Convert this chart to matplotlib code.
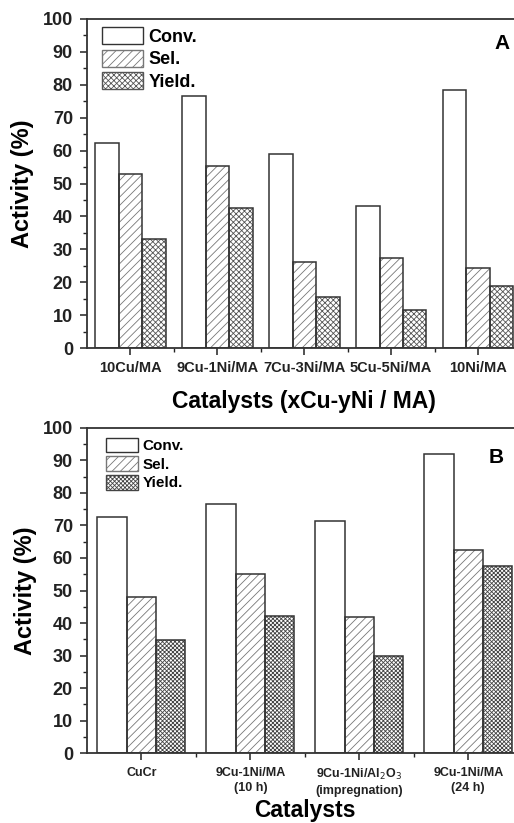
import numpy as np
import matplotlib.pyplot as plt
from matplotlib.patches import Patch

# ---- data -----------------------------------------------------------------
cats_a = ["10Cu/MA", "9Cu-1Ni/MA", "7Cu-3Ni/MA", "5Cu-5Ni/MA", "10Ni/MA"]
conv_a = [62.3, 76.7, 59.1, 43.1, 78.3]
sel_a = [53.0, 55.3, 26.1, 27.3, 24.2]
yield_a = [33.1, 42.6, 15.6, 11.7, 19.0]

cats_b = ["CuCr", "9Cu-1Ni/MA\n(10 h)", "9Cu-1Ni/Al$_2$O$_3$\n(impregnation)",
          "9Cu-1Ni/MA\n(24 h)"]
conv_b = [72.5, 76.7, 71.3, 92.0]
sel_b = [47.9, 55.1, 41.8, 62.5]
yield_b = [34.7, 42.3, 29.8, 57.6]

# ---- style ----------------------------------------------------------------
EDGE = "#333333"
plt.rcParams["font.family"] = ["Liberation Sans", "DejaVu Sans"]
plt.rcParams["hatch.linewidth"] = 0.6
W = 0.27


def bars(ax, x, vals, hatch, hcol):
    if hatch:
        ax.bar(x, vals, W, color="white", hatch=hatch, edgecolor=hcol,
               linewidth=0, zorder=2)
    ax.bar(x, vals, W, facecolor="none", edgecolor=EDGE, linewidth=1.1,
           zorder=3)


def panel(ax, cats, conv, sel, yld, ycol, tick_fs, xpad, leg_fs, leg_pos,
          hlen, letter, letter_pos):
    x = np.arange(len(cats))
    bars(ax, x - W, conv, None, None)
    bars(ax, x, sel, "////", "#777777")
    bars(ax, x + W, yld, ycol[0], ycol[1])
    ax.set_xlim(-0.5, len(cats) - 0.5)
    ax.set_ylim(0, 100)
    ax.set_yticks(np.arange(0, 101, 10))
    ax.set_yticks(np.arange(0, 101, 5), minor=True)
    ax.set_xticks(x)
    ax.set_xticks(x[:-1] + 0.5, minor=True)
    ax.set_xticklabels(cats, fontsize=tick_fs, fontweight="bold",
                       linespacing=1.3)
    for lab in ax.get_yticklabels():
        lab.set_fontsize(13)
        lab.set_fontweight("bold")
    ax.tick_params(axis="both", which="major", length=5, width=1.1,
                   direction="out", colors="#222222")
    ax.tick_params(axis="y", which="major", pad=5)
    ax.tick_params(axis="x", which="major", pad=xpad)
    ax.tick_params(axis="both", which="minor", length=3, width=1.0,
                   direction="out", colors="#222222")
    for s in ax.spines.values():
        s.set_linewidth(1.3)
        s.set_color("#333333")
    ax.set_ylabel("Activity (%)", fontsize=17, fontweight="bold")

    handles = [
        Patch(facecolor="white", edgecolor=EDGE, label="Conv."),
        Patch(facecolor="white", edgecolor="#777777", hatch="////",
              label="Sel."),
        Patch(facecolor="white", edgecolor=ycol[1], hatch=ycol[0],
              label="Yield."),
    ]
    leg = ax.legend(handles=handles, loc="upper left", bbox_to_anchor=leg_pos,
                    frameon=False, prop={"size": leg_fs, "weight": "bold"},
                    handlelength=hlen, handleheight=1.1, labelspacing=0.2,
                    handletextpad=0.3, borderaxespad=0, borderpad=0)
    for h in leg.legend_handles:
        h.set_linewidth(1.0)
    ax.text(letter_pos[0], letter_pos[1], letter, transform=ax.transAxes,
            fontsize=15, fontweight="bold", ha="center", va="center")


fig = plt.figure(figsize=(5.14, 8.23), dpi=100)

ax1 = fig.add_axes([0.169, 0.577, 0.846, 0.400])
panel(ax1, cats_a, conv_a, sel_a, yield_a, ("xxxxxx", "#555555"), 10.5, 4,
      13, (0.034, 0.975), 2.3, "A", (0.955, 0.925))
ax1.set_xlabel("Catalysts (xCu-yNi / MA)", fontsize=16.5, fontweight="bold",
               labelpad=11)
ax1.yaxis.set_label_coords(-0.122, 0.5)

ax2 = fig.add_axes([0.169, 0.085, 0.848, 0.395])
panel(ax2, cats_b, conv_b, sel_b, yield_b, ("xxxxxxxx", "#444444"), 9, 5,
      11, (0.043, 0.97), 2.1, "B", (0.94, 0.91))
ax2.set_xlabel("Catalysts", fontsize=16.5, fontweight="bold")
ax2.xaxis.set_label_coords(0.5, -0.14)
ax2.yaxis.set_label_coords(-0.115, 0.5)

fig.savefig("out.png", dpi=100)
